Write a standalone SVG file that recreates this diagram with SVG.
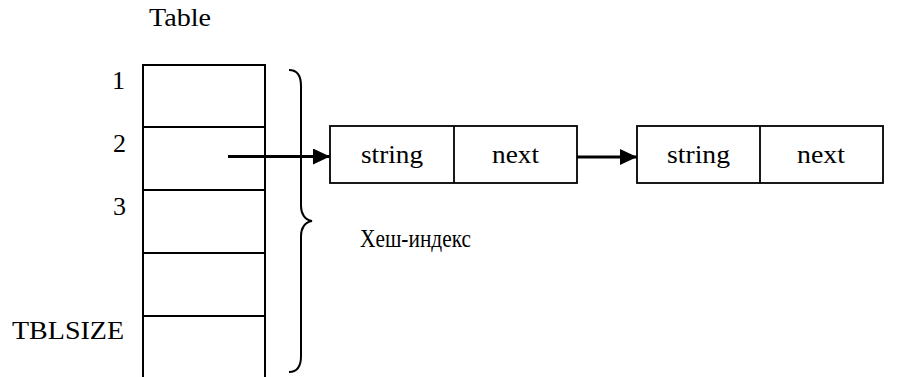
<svg xmlns="http://www.w3.org/2000/svg" width="910" height="377" viewBox="0 0 910 377">
<style>
text{font-family:'Liberation Serif','Times New Roman',serif;font-size:26px;fill:#000}
.tbl{fill:none;stroke:#000;stroke-width:2}
.box{fill:#fff;stroke:#000;stroke-width:1.8}
.div{stroke:#000;stroke-width:1.8}
.conn{stroke:#000;stroke-width:3;fill:none}
.brace{fill:none;stroke:#000;stroke-width:2}
</style>
<defs>
<marker id="ah" viewBox="0 0 17 16" refX="17" refY="8" markerWidth="17" markerHeight="16" markerUnits="userSpaceOnUse" orient="auto">
<path d="M0,0 L17,8 L0,16 Z" fill="#000"/>
</marker>
</defs>
<rect width="910" height="377" fill="#fff"/>
<g id="table">
<text x="149" y="26" textLength="62" lengthAdjust="spacingAndGlyphs">Table</text>
<path class="tbl" d="M143,377 V65 H265 V377 M143,127 H265 M143,190 H265 M143,253 H265 M143,316 H265"/>
<text x="125" y="89" text-anchor="end">1</text>
<text x="126" y="152" text-anchor="end">2</text>
<text x="126" y="215" text-anchor="end">3</text>
<text x="12" y="339" textLength="112" lengthAdjust="spacingAndGlyphs">TBLSIZE</text>
</g>
<g id="brace">
<path class="brace" d="M289,70 C297,70 301,76 301,86 L301,206 C301,214 305,220 312,221 C305,222 301,228 301,236 L301,356 C301,366 297,372 289,372"/>
<text x="360" y="247" textLength="111" lengthAdjust="spacingAndGlyphs">Хеш-индекс</text>
</g>
<g id="node1">
<rect class="box" x="330" y="126" width="247" height="57"/>
<line class="div" x1="454" y1="126" x2="454" y2="183"/>
<text x="361" y="163" textLength="62" lengthAdjust="spacingAndGlyphs">string</text>
<text x="492" y="163" textLength="47" lengthAdjust="spacingAndGlyphs">next</text>
</g>
<g id="node2">
<rect class="box" x="637" y="126" width="246" height="57"/>
<line class="div" x1="760" y1="126" x2="760" y2="183"/>
<text x="667" y="163" textLength="63" lengthAdjust="spacingAndGlyphs">string</text>
<text x="797" y="163" textLength="48" lengthAdjust="spacingAndGlyphs">next</text>
</g>
<g id="connectors">
<line class="conn" x1="228" y1="156.5" x2="330" y2="156.5" marker-end="url(#ah)"/>
<line class="conn" x1="577" y1="157" x2="637" y2="157" marker-end="url(#ah)"/>
</g>
</svg>
